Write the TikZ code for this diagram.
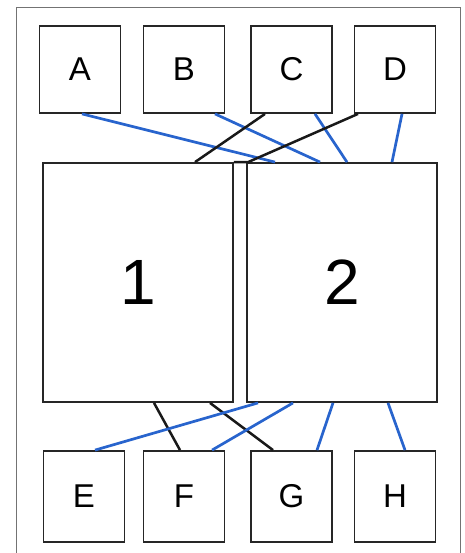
\documentclass[tikz,border=0pt]{standalone}
\usepackage{fontspec}
\setmainfont{Liberation Sans}
\usepackage{xcolor}
\usepackage{tikz}
\definecolor{wireblue}{RGB}{40,100,205}

\begin{document}
\begin{tikzpicture}[x=1pt, y=-1pt,
  port/.style={draw=black!85, line width=1.8pt, fill=white, minimum width=81pt, minimum height=87pt, inner sep=0pt, font=\fontsize{33}{33}\selectfont},
  chip/.style={draw=black!85, line width=1.8pt, fill=white, minimum width=190pt, minimum height=239pt, inner sep=0pt, font=\fontsize{64}{64}\selectfont},
  bluewire/.style={draw=wireblue, line width=2.7pt},
  blackwire/.style={draw=black!90, line width=2.5pt}]
\useasboundingbox (0,0) rectangle (464,553);
\draw[black!55, line width=1pt] (16,560) -- (16,8) -- (460,8) -- (460,560);
\node[port] (a) at (80,69.5) {A};
\node[port] (b) at (184,69.5) {B};
\node[port] (c) at (291.5,69.5) {C};
\node[port] (d) at (395,69.5) {D};
\node[chip] (one) at (138,282.5) {1};
\node[chip] (two) at (342,282.5) {2};
\node[port, minimum height=91pt] (e) at (84,496.5) {E};
\node[port, minimum height=91pt] (f) at (184,496.5) {F};
\node[port, minimum height=91pt] (g) at (291.5,496.5) {G};
\node[port, minimum height=91pt] (h) at (395,496.5) {H};
% top wires
\draw[bluewire] ([xshift=2pt]a.south) -- ([xshift=-67pt]two.north);
\draw[bluewire] ([xshift=31pt]b.south) -- ([xshift=-22pt]two.north);
\draw[bluewire] ([xshift=23.5pt]c.south) -- ([xshift=5pt]two.north);
\draw[bluewire] ([xshift=7pt]d.south) -- ([xshift=50pt]two.north);
\draw[blackwire] ([xshift=-26.5pt]c.south) -- ([xshift=57pt]one.north);
\draw[blackwire] ([xshift=-37pt]d.south) -- ([xshift=2pt]two.north west) -- (one.north east);
% bottom wires
\draw[blackwire] ([xshift=16pt]one.south) -- ([xshift=-4pt]f.north);
\draw[blackwire] ([xshift=72pt]one.south) -- ([xshift=-18.5pt]g.north);
\draw[bluewire] ([xshift=-84pt]two.south) -- ([xshift=11pt]e.north);
\draw[bluewire] ([xshift=-49pt]two.south) -- ([xshift=28pt]f.north);
\draw[bluewire] ([xshift=-9pt]two.south) -- ([xshift=25.5pt]g.north);
\draw[bluewire] ([xshift=46pt]two.south) -- ([xshift=10pt]h.north);
\end{tikzpicture}
\end{document}
